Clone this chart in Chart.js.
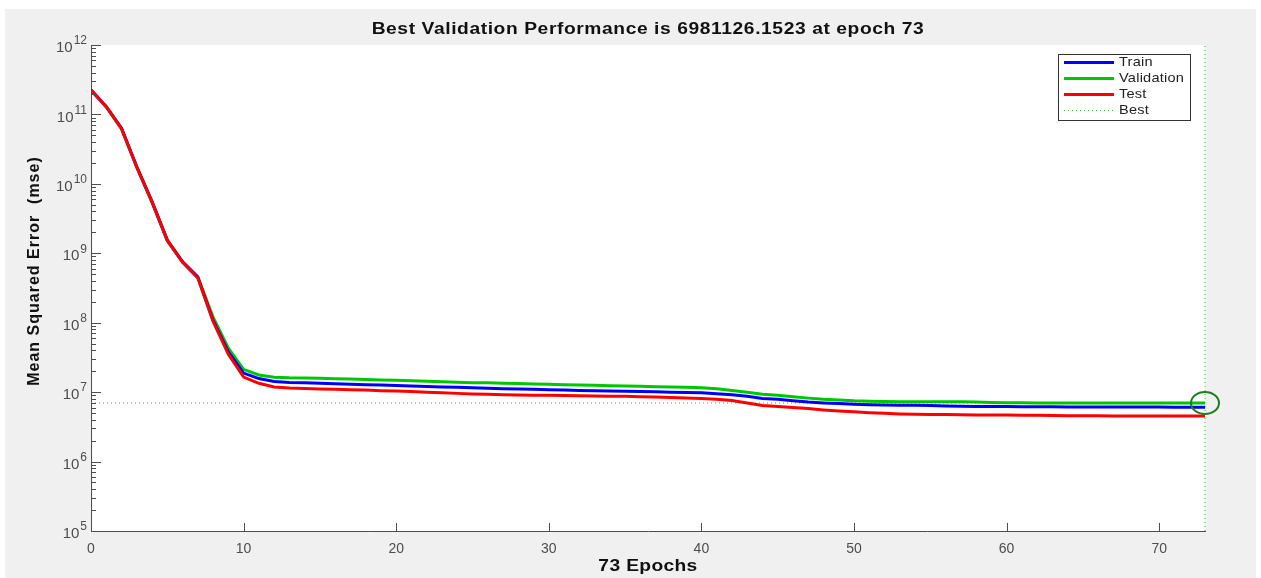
<!DOCTYPE html>
<html>
<head>
<meta charset="utf-8">
<title>Best Validation Performance</title>
<script src="https://cdn.jsdelivr.net/npm/chart.js@4"></script>
<style>
  html, body { margin: 0; padding: 0; background: #fff; }
  #perf { display: block; }
</style>
</head>
<body>
<canvas id="perf" width="1261" height="578"></canvas>
<script>
const epochs = [0, 1, 2, 3, 4, 5, 6, 7, 8, 9, 10, 11, 12, 13, 14, 15, 16, 17, 18, 19,
  20, 21, 22, 23, 24, 25, 26, 27, 28, 29, 30, 31, 32, 33, 34, 35, 36, 37, 38, 39,
  40, 41, 42, 43, 44, 45, 46, 47, 48, 49, 50, 51, 52, 53, 54, 55, 56, 57, 58, 59,
  60, 61, 62, 63, 64, 65, 66, 67, 68, 69, 70, 71, 72, 73];

const trainMse = [2.24e11, 1.29e11, 6.3e10, 1.75e10, 5.5e9, 1.54e9, 7.5e8, 4.5e8, 1.08e8, 3.8e7,
  1.88e7, 1.57e7, 1.42e7, 1.38e7, 1.36e7, 1.34e7, 1.32e7, 1.30e7, 1.28e7, 1.27e7,
  1.25e7, 1.23e7, 1.21e7, 1.19e7, 1.18e7, 1.16e7, 1.14e7, 1.12e7, 1.11e7, 1.10e7,
  1.08e7, 1.07e7, 1.06e7, 1.05e7, 1.04e7, 1.03e7, 1.02e7, 1.01e7, 1.00e7, 9.9e6,
  9.8e6, 9.5e6, 9.2e6, 8.7e6, 8.1e6, 7.9e6, 7.5e6, 7.2e6, 7.0e6, 6.85e6,
  6.7e6, 6.6e6, 6.55e6, 6.5e6, 6.45e6, 6.4e6, 6.3e6, 6.25e6, 6.2e6, 6.2e6,
  6.2e6, 6.15e6, 6.15e6, 6.15e6, 6.12e6, 6.12e6, 6.1e6, 6.1e6, 6.1e6, 6.1e6,
  6.1e6, 6.08e6, 6.08e6, 6.08e6];

const validationMse = [2.26e11, 1.30e11, 6.4e10, 1.78e10, 5.6e9, 1.56e9, 7.6e8, 4.6e8, 1.2e8, 4.3e7,
  2.13e7, 1.77e7, 1.64e7, 1.61e7, 1.60e7, 1.58e7, 1.56e7, 1.54e7, 1.52e7, 1.50e7,
  1.48e7, 1.46e7, 1.44e7, 1.41e7, 1.39e7, 1.37e7, 1.36e7, 1.34e7, 1.33e7, 1.31e7,
  1.30e7, 1.28e7, 1.27e7, 1.26e7, 1.24e7, 1.23e7, 1.22e7, 1.20e7, 1.19e7, 1.18e7,
  1.16e7, 1.12e7, 1.06e7, 1.00e7, 9.3e6, 9.0e6, 8.6e6, 8.2e6, 7.9e6, 7.7e6,
  7.5e6, 7.4e6, 7.35e6, 7.3e6, 7.3e6, 7.3e6, 7.3e6, 7.28e6, 7.2e6, 7.1e6,
  7.05e6, 7.02e6, 7.0e6, 7.0e6, 7.0e6, 6.99e6, 6.99e6, 6.99e6, 6.99e6, 6.985e6,
  6.985e6, 6.985e6, 6.982e6, 6981126.1523];

const testMse = [2.22e11, 1.28e11, 6.2e10, 1.72e10, 5.4e9, 1.52e9, 7.4e8, 4.4e8, 1.04e8, 3.5e7,
  1.65e7, 1.34e7, 1.19e7, 1.15e7, 1.13e7, 1.11e7, 1.10e7, 1.08e7, 1.07e7, 1.05e7,
  1.04e7, 1.02e7, 1.00e7, 9.8e6, 9.6e6, 9.4e6, 9.3e6, 9.2e6, 9.1e6, 9.05e6,
  9.0e6, 8.95e6, 8.9e6, 8.8e6, 8.75e6, 8.7e6, 8.6e6, 8.5e6, 8.4e6, 8.25e6,
  8.1e6, 7.9e6, 7.6e6, 7.0e6, 6.4e6, 6.2e6, 6.0e6, 5.8e6, 5.55e6, 5.35e6,
  5.2e6, 5.05e6, 4.95e6, 4.85e6, 4.8e6, 4.78e6, 4.75e6, 4.73e6, 4.7e6, 4.7e6,
  4.68e6, 4.65e6, 4.63e6, 4.6e6, 4.58e6, 4.57e6, 4.56e6, 4.55e6, 4.55e6, 4.54e6,
  4.54e6, 4.53e6, 4.53e6, 4.53e6];

const bestEpoch = 73;
const bestMse = 6981126.1523;

const xTickValues = [0, 10, 20, 30, 40, 50, 60, 70];
const yTickExponents = [5, 6, 7, 8, 9, 10, 11, 12];
const yMinorSteps = [2, 3, 4, 5, 6, 7, 8, 9];

const FONT = "'Liberation Sans', Arial, Helvetica, sans-serif";
const AXIS_GREY = '#4d4d4d';
const BEST_GREEN = '#3cb43c';

function toPoints(values) {
  return epochs.map((e, i) => ({ x: e, y: values[i] }));
}

// open ellipse used as the marker for the best epoch
function bestMarker() {
  const m = document.createElement('canvas');
  m.width = 34;
  m.height = 28;
  const g = m.getContext('2d');
  g.strokeStyle = '#1a7f1a';
  g.lineWidth = 2;
  g.beginPath();
  g.ellipse(17, 14, 14, 11, 0, 0, Math.PI * 2);
  g.stroke();
  return m;
}

// text drawn slightly widened, like the figure export
function wideText(c, text, x, y, stretch, spacing) {
  c.save();
  c.translate(x, y);
  c.scale(stretch, 1);
  c.letterSpacing = spacing;
  c.fillText(text, 0, 0);
  c.restore();
}

// MATLAB-style decorations: grey figure, inward ticks, superscript labels, legend box
const perfDecor = {
  id: 'perfDecor',
  beforeDraw(chart) {
    const c = chart.ctx, a = chart.chartArea;
    c.save();
    c.fillStyle = '#ffffff';
    c.fillRect(0, 0, chart.width, chart.height);
    c.fillStyle = '#f0f0f0';
    c.fillRect(5, 9, chart.width - 10, chart.height - 9);
    c.fillStyle = '#ffffff';
    c.fillRect(a.left, a.top, a.right - a.left, a.bottom - a.top);
    c.restore();
  },
  afterDraw(chart) {
    const c = chart.ctx, a = chart.chartArea;
    const xs = chart.scales.x, ys = chart.scales.y;
    c.save();

    // tick marks pointing into the axes
    c.strokeStyle = AXIS_GREY;
    c.lineWidth = 1;
    c.beginPath();
    xTickValues.forEach(v => {
      const px = Math.round(xs.getPixelForValue(v)) + 0.5;
      c.moveTo(px, a.bottom);
      c.lineTo(px, a.bottom - 8);
    });
    yTickExponents.forEach((e, i) => {
      const py = Math.round(ys.getPixelForValue(Math.pow(10, e))) + 0.5;
      c.moveTo(a.left, py);
      c.lineTo(a.left + 10, py);
      if (i < yTickExponents.length - 1) {
        yMinorSteps.forEach(m => {
          const my = Math.round(ys.getPixelForValue(m * Math.pow(10, e))) + 0.5;
          c.moveTo(a.left, my);
          c.lineTo(a.left + 5, my);
        });
      }
    });
    c.stroke();

    // y tick labels as 10 with a raised exponent
    c.fillStyle = AXIS_GREY;
    c.textBaseline = 'middle';
    yTickExponents.forEach(e => {
      const py = ys.getPixelForValue(Math.pow(10, e));
      const exp = String(e);
      c.font = '12px ' + FONT;
      const ew = c.measureText(exp).width;
      c.textAlign = 'left';
      c.fillText(exp, a.left - 4 - ew, py - 4);
      c.font = '15px ' + FONT;
      c.textAlign = 'right';
      c.fillText('10', a.left - 5 - ew, py + 3);
    });

    // title and axis titles
    const cx = (a.left + a.right) / 2;
    c.fillStyle = '#111111';
    c.textAlign = 'center';
    c.font = 'bold 16px ' + FONT;
    wideText(c, 'Best Validation Performance is ' + bestMse.toFixed(4) + ' at epoch ' + bestEpoch,
      cx, 30, 1.2, '0.5px');
    wideText(c, bestEpoch + ' Epochs', cx, 567, 1.2, '0.3px');
    c.save();
    c.translate(35, 271);
    c.rotate(-Math.PI / 2);
    c.letterSpacing = '1px';
    c.fillText('Mean Squared Error  (mse)', 0, 0);
    c.restore();

    // legend box in the upper right corner
    const lx = 1058.5, ly = 54.5, lw = 132, lh = 66;
    c.fillStyle = '#ffffff';
    c.fillRect(lx, ly, lw, lh);
    c.strokeStyle = '#333333';
    c.lineWidth = 1;
    c.strokeRect(lx, ly, lw, lh);
    const rows = chart.data.datasets.filter(d => d.inLegend);
    rows.forEach((d, i) => {
      const ry = 62.5 + i * 16;
      c.beginPath();
      c.strokeStyle = d.borderColor;
      c.lineWidth = d.borderWidth;
      c.setLineDash(d.borderDash || []);
      c.moveTo(1064, ry);
      c.lineTo(1114, ry);
      c.stroke();
      c.setLineDash([]);
      c.fillStyle = '#222222';
      c.font = '13px ' + FONT;
      c.textAlign = 'left';
      c.textBaseline = 'middle';
      wideText(c, d.label, 1119, ry, 1.12, '0.2px');
    });
    c.restore();
  }
};

new Chart(document.getElementById('perf'), {
  type: 'line',
  data: {
    datasets: [
      {
        label: 'Train', inLegend: true, data: toPoints(trainMse),
        borderColor: '#0000ff', borderWidth: 3, pointRadius: 0, tension: 0, order: 2
      },
      {
        label: 'Validation', inLegend: true, data: toPoints(validationMse),
        borderColor: '#00c800', borderWidth: 3, pointRadius: 0, tension: 0, order: 3
      },
      {
        label: 'Test', inLegend: true, data: toPoints(testMse),
        borderColor: '#ff0000', borderWidth: 3, pointRadius: 0, tension: 0, order: 1
      },
      {
        label: 'Best', inLegend: true,
        data: [{ x: 0, y: bestMse }, { x: bestEpoch, y: bestMse }],
        borderColor: BEST_GREEN, borderWidth: 1, borderDash: [1, 3],
        pointRadius: 0, order: 4, clip: false
      },
      {
        label: 'Best epoch',
        data: [{ x: bestEpoch, y: 1e5 }, { x: bestEpoch, y: 1e12 }],
        borderColor: BEST_GREEN, borderWidth: 1, borderDash: [1, 3],
        pointRadius: 0, order: 4, clip: false
      },
      {
        label: 'Best point',
        data: [{ x: bestEpoch, y: bestMse }],
        showLine: false, pointStyle: bestMarker(),
        order: 0, clip: false
      }
    ]
  },
  options: {
    responsive: false,
    animation: false,
    devicePixelRatio: 1,
    layout: { padding: { left: 0, right: 56, top: 45, bottom: 0 } },
    plugins: {
      legend: { display: false },
      tooltip: { enabled: false }
    },
    scales: {
      x: {
        type: 'linear',
        min: 0,
        max: bestEpoch,
        grid: { display: false, drawTicks: false },
        border: { display: true, color: AXIS_GREY, width: 1 },
        ticks: {
          stepSize: 10,
          includeBounds: false,
          padding: 10,
          maxRotation: 0,
          color: AXIS_GREY,
          font: { family: FONT, size: 14 }
        },
        afterFit(scale) { scale.height = 47; }
      },
      y: {
        type: 'logarithmic',
        min: 1e5,
        max: 1e12,
        grid: { display: false, drawTicks: false },
        border: { display: true, color: AXIS_GREY, width: 1 },
        ticks: { display: false },
        afterFit(scale) { scale.width = 91; }
      }
    }
  },
  plugins: [perfDecor]
});
</script>
</body>
</html>
